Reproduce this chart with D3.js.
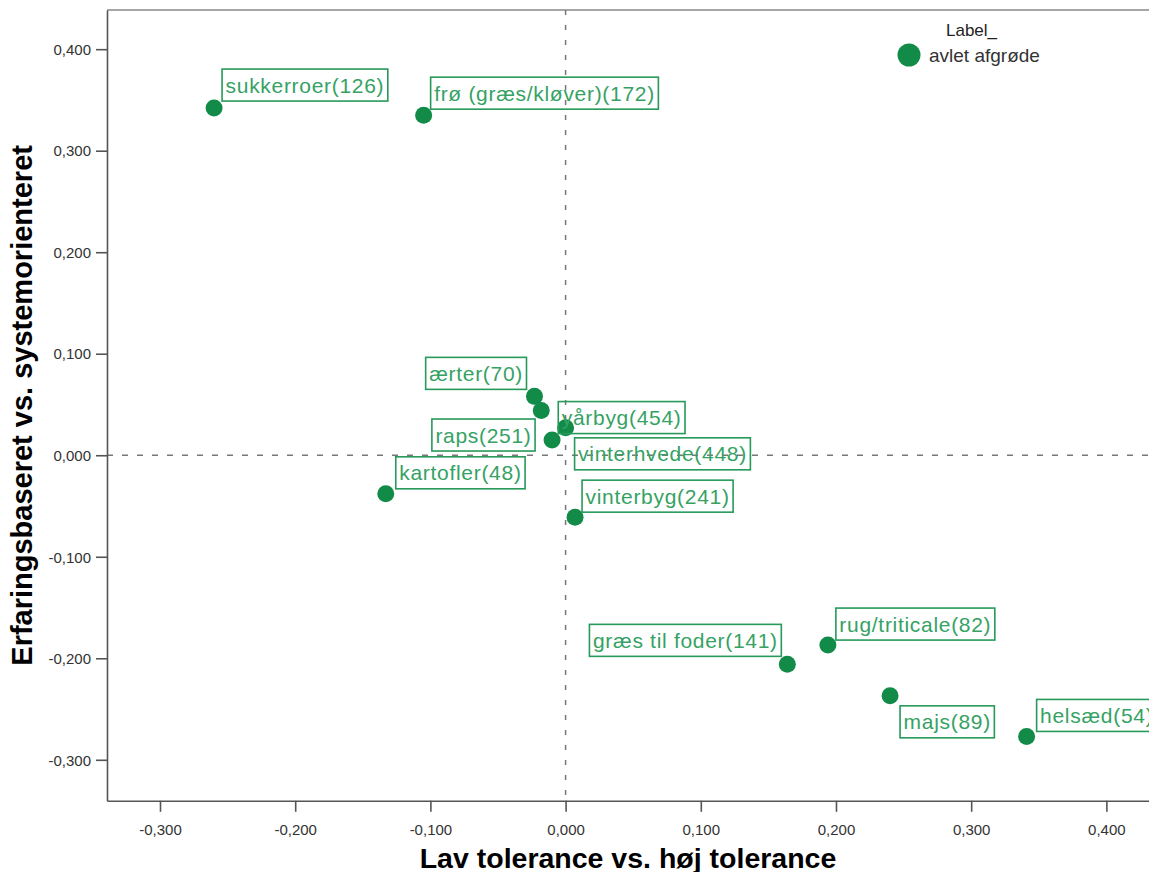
<!DOCTYPE html>
<html>
<head>
<meta charset="utf-8">
<script src="https://cdn.jsdelivr.net/npm/d3@7"></script>
<style>
  html, body { margin: 0; padding: 0; background: #fff; }
  svg { display: block; font-family: "Liberation Sans", Arial, sans-serif; }
</style>
</head>
<body>
<svg id="chart" width="1149" height="872"></svg>
<script>
// ---- data ----
const crops = ["sukkerroer", "frø (græs/kløver)", "ærter", "yårbyg", "raps", "vinterhvede",
               "kartofler", "vinterbyg", "græs til foder", "rug/triticale", "majs", "helsæd"];
const counts = [126, 172, 70, 454, 251, 448, 48, 241, 141, 82, 89, 54];
const xValues = [-0.260, -0.105, -0.023, -0.018, -0.010, 0.000, -0.133, 0.007, 0.164, 0.194, 0.240, 0.341];
const yValues = [0.342, 0.335, 0.058, 0.044, 0.015, 0.027, -0.038, -0.061, -0.206, -0.187, -0.237, -0.277];
const xTicks = [-0.3, -0.2, -0.1, 0.0, 0.1, 0.2, 0.3, 0.4];
const yTicks = [-0.3, -0.2, -0.1, 0.0, 0.1, 0.2, 0.3, 0.4];
const xTitle = "Lav tolerance vs. høj tolerance";
const yTitle = "Erfaringsbaseret vs. systemorienteret";
const legendTitle = "Label_";
const legendLabel = "avlet afgrøde";

// ---- label placement (layout only): side of box relative to point, pixel offsets ----
const labelPlace = [
  {h: "r", v: "a", dx: 8, dy: -7},
  {h: "r", v: "a", dx: 7, dy: -6},
  {h: "l", v: "a", dx: -8, dy: -7},
  {h: "r", v: "b", dx: 17, dy: -9},
  {h: "l", v: "a", dx: -17, dy: 11},
  {h: "r", v: "b", dx: 9, dy: 10},
  {h: "r", v: "a", dx: 10, dy: -5},
  {h: "r", v: "a", dx: 7, dy: -5},
  {h: "l", v: "a", dx: -6, dy: -8},
  {h: "r", v: "a", dx: 8, dy: -5},
  {h: "r", v: "b", dx: 10, dy: 10},
  {h: "r", v: "a", dx: 10, dy: -5}
];

const svg = d3.select("#chart");
const pLeft = 107, pRight = 1161, pTop = 10, pBottom = 800.8;

const x = d3.scaleLinear().domain([-0.3392, 0.4404]).range([pLeft, pRight]);
const y = d3.scaleLinear().domain([-0.3404, 0.4386]).range([pBottom, pTop]);

const loc = d3.formatLocale({decimal: ",", thousands: ".", grouping: [3], currency: ["", ""], minus: "-"});
const fmt = loc.format(".3f");

const axisColor = "#555";
const dotColor = "#138B48";
const boxColor = "#27995A";
const textColor = "#35A264";

// frame (top line)
svg.append("line").attr("x1", pLeft).attr("x2", pRight).attr("y1", pTop).attr("y2", pTop)
  .attr("stroke", "#888").attr("stroke-width", 1.5);

// zero reference lines
svg.append("line").attr("x1", x(0)).attr("x2", x(0)).attr("y1", pTop).attr("y2", pBottom)
  .attr("stroke", "#777").attr("stroke-width", 1.5).attr("stroke-dasharray", "5,10");
svg.append("line").attr("x1", pLeft).attr("x2", pRight).attr("y1", y(0)).attr("y2", y(0))
  .attr("stroke", "#777").attr("stroke-width", 1.5).attr("stroke-dasharray", "6,9");

// axes
const xAxis = d3.axisBottom(x).tickValues(xTicks).tickFormat(fmt).tickSize(11).tickSizeOuter(0);
const yAxis = d3.axisLeft(y).tickValues(yTicks).tickFormat(fmt).tickSize(11).tickSizeOuter(0);

const gx = svg.append("g").attr("transform", `translate(0,${pBottom})`).call(xAxis);
const gy = svg.append("g").attr("transform", `translate(${pLeft},0)`).call(yAxis);
[gx, gy].forEach(g => {
  g.select(".domain").attr("stroke", axisColor).attr("stroke-width", 1.6);
  g.selectAll(".tick line").attr("stroke", axisColor).attr("stroke-width", 1.6);
  g.selectAll(".tick text").attr("fill", "#333").style("font-size", "15px")
    .style("font-family", "'Liberation Sans', Arial, sans-serif");
});
gx.selectAll(".tick text").attr("dy", "1.35em");
gy.selectAll(".tick text").attr("x", -16).attr("dy", "0.35em");

// axis titles
svg.append("text").attr("x", (pLeft + 1149) / 2).attr("y", 868).attr("text-anchor", "middle")
  .style("font-size", "28.5px").style("font-weight", "bold").attr("fill", "#000").text(xTitle);
svg.append("text").attr("transform", `translate(32,${(pTop + pBottom) / 2}) rotate(-90)`)
  .attr("text-anchor", "middle")
  .style("font-size", "29px").style("font-weight", "bold").attr("fill", "#000").text(yTitle);

// data
const data = crops.map((c, i) => ({name: `${c}(${counts[i]})`, x: xValues[i], y: yValues[i], p: labelPlace[i]}));

// points
svg.append("g").selectAll("circle").data(data).join("circle")
  .attr("cx", d => x(d.x)).attr("cy", d => y(d.y)).attr("r", 8.5).attr("fill", dotColor);

// labels
const lg = svg.append("g");
const boxH = 32;
data.forEach(d => {
  const px = x(d.x), py = y(d.y);
  const g = lg.append("g");
  const t = g.append("text").style("font-size", "21px").style("letter-spacing", "0.7px")
    .attr("fill", textColor).text(d.name);
  const w = t.node().getComputedTextLength() + 7;
  const bx = d.p.h === "r" ? px + d.p.dx : px + d.p.dx - w;
  const by = d.p.v === "a" ? py + d.p.dy - boxH : py + d.p.dy;
  t.attr("x", bx + 3.5).attr("y", by + 23.5);
  g.insert("rect", "text").attr("x", bx).attr("y", by).attr("width", w).attr("height", boxH)
    .attr("fill", "none").attr("stroke", boxColor).attr("stroke-width", 1.6);
});

// legend
svg.append("text").attr("x", 946).attr("y", 36).style("font-size", "17px").attr("fill", "#222").text(legendTitle);
svg.append("circle").attr("cx", 909).attr("cy", 55).attr("r", 11.5).attr("fill", dotColor);
svg.append("text").attr("x", 929).attr("y", 62).style("font-size", "19px").attr("fill", "#333").text(legendLabel);
</script>
</body>
</html>
